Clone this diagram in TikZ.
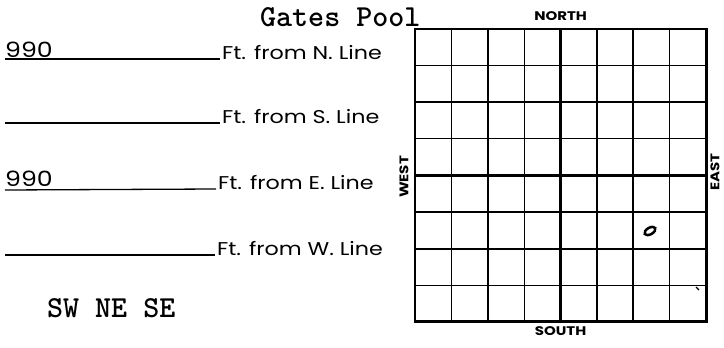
\documentclass[tikz,border=0pt]{standalone}
\usepackage{fontspec}
\newfontfamily\formfont[FakeStretch=1.2]{Poppins}
\usetikzlibrary{positioning}

\begin{document}
\begin{tikzpicture}[
  x=1pt, y=-1pt,
  ftlbl/.style={font=\formfont\fontsize{18.5}{18.5}\selectfont, inner sep=0pt, anchor=base west},
  dist/.style={font=\formfont\fontsize{21}{21}\selectfont, inner sep=0pt, anchor=base west},
  compass/.style={font=\formfont\bfseries\fontsize{12.5}{12.5}\selectfont, inner sep=0pt},
  tw/.style={font=\ttfamily\bfseries\fontsize{30.5}{30.5}\selectfont, inner sep=0pt, anchor=base west},
  blank/.style={line width=1.3pt},
  fine/.style={line width=1.2pt},
  quarter/.style={line width=1.9pt},
  heavy/.style={line width=2.8pt}]
\useasboundingbox (0,0) rectangle (724,348);
% section plat, 8 x 8
\foreach \i in {1,3,5,7} {
  \draw[fine] ({415+36.4*\i},29) -- ({415+36.4*\i},321.8);
  \draw[fine] (415,{29+36.6*\i}) -- (706.2,{29+36.6*\i});
}
\foreach \i in {2,6} {
  \draw[quarter] ({415+36.4*\i},29) -- ({415+36.4*\i},321.8);
  \draw[quarter] (415,{29+36.6*\i}) -- (706.2,{29+36.6*\i});
}
\draw[heavy] (560.6,29) -- (560.6,321.8);
\draw[heavy] (415,175.4) -- (706.2,175.4);
\node[draw, heavy, minimum width=291.2pt, minimum height=292.8pt, inner sep=0pt] (sec) at (560.6,175.4) {};
\node[compass, above=7pt of sec.north] (north) {NORTH};
\node[compass, below=3pt of sec.south] (south) {SOUTH};
\node[compass, rotate=90] (west) at (404,177) {WEST};
\node[compass, rotate=90] (east) at (715,172) {EAST};
% well spot
\draw[line width=2.5pt, rotate around={30:(650,231)}] (650,231) ellipse (6 and 3.3);
\draw[line width=1.2pt] (696,287) -- (699,290);
% title
\node[tw] (pool) at (260,27) {Gates Pool};
\node[tw] (qtr) at (47,317) {SW NE SE};
% footage lines
\coordinate (nl) at (5,59);
\coordinate (sl) at (5,123);
\coordinate (el) at (5,190);
\coordinate (wl) at (5,255);
\node[dist] (nval) at (5,57) {990};
\node[dist] (eval) at (5,186) {990};
\node[ftlbl] (nft) at (222,59) {Ft. from N. Line};
\node[ftlbl] (sft) at (222,123) {Ft. from S. Line};
\node[ftlbl] (eft) at (218,189) {Ft. from E. Line};
\node[ftlbl] (wft) at (217,255) {Ft. from W. Line};
\draw[blank] (nl) -- ([xshift=-2pt]nft.base west);
\draw[blank] (sl) -- ([xshift=-2pt]sft.base west);
\draw[blank] (el) -- ([xshift=-2pt]eft.base west);
\draw[blank] (wl) -- ([xshift=-2pt]wft.base west);
\end{tikzpicture}
\end{document}
